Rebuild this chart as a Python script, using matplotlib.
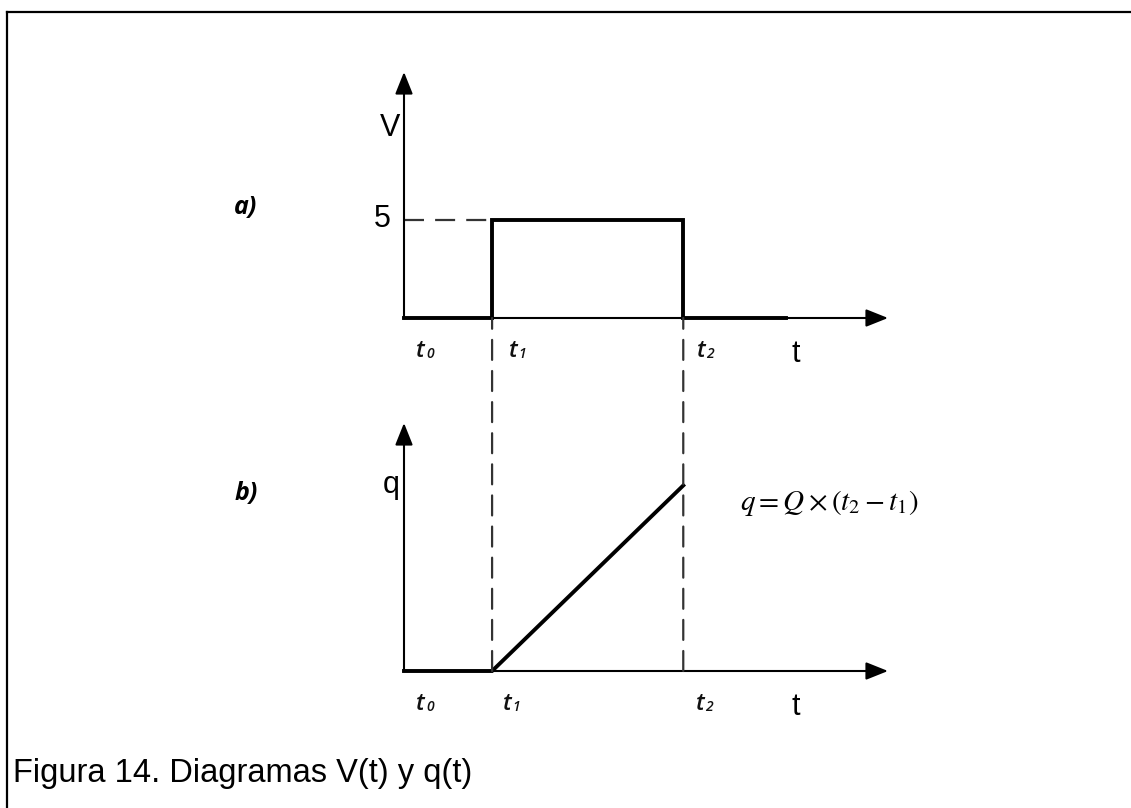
## Diagramas V(t) y q(t): pulso de tension y carga acumulada

import numpy as np
import matplotlib
matplotlib.use('Agg')
import matplotlib.pyplot as plt
from matplotlib.lines import Line2D
from matplotlib.patches import ConnectionPatch

t_marks = [0.0, 1.82, 5.77]          # t0, t1, t2
t_names = ['0', '1', '2']
t_tail = 7.9                         # fin del tramo grueso tras t2
t_max = 10.0                         # extremo del eje t
V_level = 5
V_max = 12.55
Q = 1.0                              # pendiente de la carga
q_max = 5.28

# Curvas
v_t = [t_marks[0], t_marks[1], t_marks[1], t_marks[2], t_marks[2], t_tail]
v_v = [0, 0, V_level, V_level, 0, 0]
q_t = [t_marks[0], t_marks[1], t_marks[2]]
q_v = [0, 0, Q * (t_marks[2] - t_marks[1])]

W, H = 1131, 808
fig = plt.figure(figsize=(W / 100, H / 100), dpi=100)

def px_box(x0, y0, x1, y1):
    # caja en pixeles (origen arriba a la izquierda) -> coordenadas de figura
    return [x0 / W, 1 - y1 / H, (x1 - x0) / W, (y1 - y0) / H]

ax_a = fig.add_axes(px_box(404, 72, 888, 318))
ax_b = fig.add_axes(px_box(404, 423, 888, 671))
ax_a.set_xlim(0, t_max); ax_a.set_ylim(0, V_max)
ax_b.set_xlim(0, t_max); ax_b.set_ylim(0, q_max)

lw_axis = 1.5
lw_thick = 2.8
dash = (0, (9, 5))
dash_col = '#333333'

for ax in (ax_a, ax_b):
    ax.set_axis_off()
    # ejes con flecha
    for tip in ((1, 0), (0, 1)):
        ax.annotate('', xy=tip, xytext=(0, 0), xycoords='axes fraction',
                    arrowprops=dict(arrowstyle='-|>,head_length=0.75,head_width=0.3',
                                    lw=lw_axis, color='k', shrinkA=0, shrinkB=0,
                                    mutation_scale=18))

# a) pulso de tension
ax_a.plot(v_t, v_v, color='k', lw=lw_thick, solid_joinstyle='miter', clip_on=False)
ax_a.plot([0, t_marks[1]], [V_level, V_level], color=dash_col, lw=1.6, linestyle=dash)

# b) carga
ax_b.plot(q_t, q_v, color='k', lw=lw_thick, solid_joinstyle='miter', clip_on=False)

# verticales discontinuas en t1 y t2 entre los dos diagramas
for t in t_marks[1:]:
    con = ConnectionPatch(xyA=(t, 0), coordsA=ax_b.transData,
                          xyB=(t, 0), coordsB=ax_a.transData,
                          color=dash_col, lw=1.6, linestyle=dash)
    fig.add_artist(con)

lbl_font = dict(family=['Liberation Sans', 'DejaVu Sans'], fontsize=22, color='k')
sub_font = dict(family=['Open Sans', 'DejaVu Sans'], style='italic', color='#111111')

def t_label(ax, t, name, dx):
    ax.annotate('t', xy=(t, 0), xytext=(dx - 2, -24), textcoords='offset points',
                ha='center', va='center', fontsize=17, fontweight='semibold', **sub_font)
    ax.annotate(name, xy=(t, 0), xytext=(dx + 4.5, -26), textcoords='offset points',
                ha='center', va='center', fontsize=10, fontweight='semibold', **sub_font)

for ax, offs in ((ax_a, (14, 17, 15)), (ax_b, (14, 13, 14))):
    for t, name, dx in zip(t_marks, t_names, offs):
        t_label(ax, t, name, dx)
    ax.annotate('t', xy=(0.81, 0), xycoords='axes fraction', xytext=(0, -26),
                textcoords='offset points', ha='center', va='center', **lbl_font)

ax_a.annotate('V', xy=(0, 0.772), xycoords='axes fraction', xytext=(-10, 0),
              textcoords='offset points', ha='center', va='center', **lbl_font)
ax_a.annotate(str(V_level), xy=(0, V_level), xycoords=('axes fraction', 'data'),
              xytext=(-16, 1), textcoords='offset points', ha='center', va='center',
              **lbl_font)
ax_b.annotate('q', xy=(0, 0.75), xycoords='axes fraction', xytext=(-9, 0),
              textcoords='offset points', ha='center', va='center', **lbl_font)

matplotlib.rcParams['mathtext.fontset'] = 'stix'
ax_b.text(8.78, 3.57, r'$q = Q\times\left(t_2 - t_1\right)$', ha='center', va='center',
          fontsize=21, color='k')

# rotulos a) y b)
for lbl, y in (('a)', 207), ('b)', 494)):
    fig.text(246 / W, 1 - y / H, lbl, ha='center', va='center', fontsize=18,
             style='italic', fontweight='bold', family=['Open Sans', 'DejaVu Sans'])

# marco y pie de figura
fig.add_artist(Line2D([7 / W, 1], [1 - 12 / H, 1 - 12 / H], color='k', lw=1.6,
                      transform=fig.transFigure))
fig.add_artist(Line2D([7 / W, 7 / W], [0, 1 - 12 / H], color='k', lw=1.6,
                      transform=fig.transFigure))
fig.text(13 / W, 1 - 782 / H, 'Figura 14. Diagramas V(t) y q(t)', ha='left',
         va='baseline', fontsize=23.5, family=['Liberation Sans', 'DejaVu Sans'])

fig.savefig('out.png', dpi=100)
